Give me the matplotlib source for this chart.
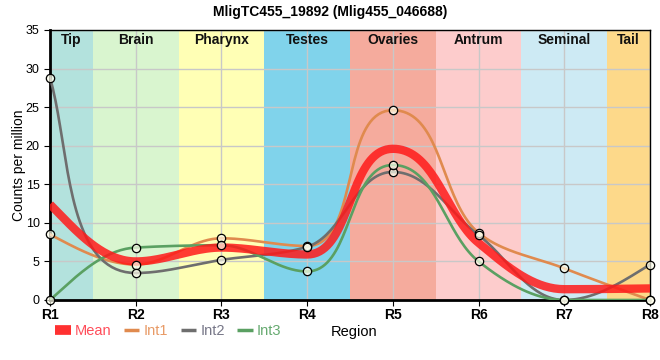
import numpy as np
import matplotlib.pyplot as plt
from matplotlib.lines import Line2D

plt.rcParams['font.family'] = ['Liberation Sans', 'DejaVu Sans']

regions = ["R1", "R2", "R3", "R4", "R5", "R6", "R7", "R8"]
mean = [12.4, 5.0, 6.8, 5.9, 19.6, 7.4, 1.4, 1.5]
int1 = [8.5, 4.6, 8.0, 7.0, 24.6, 8.7, 4.1, 0.0]
int2 = [28.8, 3.5, 5.2, 6.9, 16.6, 8.4, 0.0, 4.6]
int3 = [0.0, 6.8, 7.1, 3.7, 17.5, 5.0, 0.0, 0.0]

band_names = ["Tip", "Brain", "Pharynx", "Testes", "Ovaries", "Antrum", "Seminal", "Tail"]
band_colors = ["#b3e2dd", "#d9f5cf", "#ffffb5", "#80d3eb", "#f5ab9d", "#fdcccc", "#cdeaf4", "#fdd98a"]


def smooth(ax, xv, yv, k=1 / 3, n=40):
    # monotone tangents, bezier handles sized by the chord length in pixels
    y = np.asarray(yv, float)
    s = np.diff(y)
    m = np.zeros_like(y)
    for i in range(1, len(y) - 1):
        s0, s1 = s[i - 1], s[i]
        m[i] = (np.sign(s0) + np.sign(s1)) * min(abs(s0), abs(s1), 0.25 * abs(s0 + s1))
    m[0] = (3 * s[0] - m[1]) / 2
    m[-1] = (3 * s[-1] - m[-2]) / 2
    P = ax.transData.transform(np.column_stack([xv, y]))
    sx = P[1, 0] - P[0, 0]
    sy = ax.transData.transform((0, 1))[1] - ax.transData.transform((0, 0))[1]
    d = np.column_stack([np.full_like(m, sx), m * sy])
    d /= np.hypot(d[:, 0], d[:, 1])[:, None]
    t = np.linspace(0, 1, n)[1:, None]
    out = [P[:1]]
    for i in range(len(P) - 1):
        L = np.hypot(*(P[i + 1] - P[i])) * k
        c1 = P[i] + L * d[i]
        c2 = P[i + 1] - L * d[i + 1]
        out.append((1 - t) ** 3 * P[i] + 3 * (1 - t) ** 2 * t * c1
                   + 3 * (1 - t) * t ** 2 * c2 + t ** 3 * P[i + 1])
    pts = ax.transData.inverted().transform(np.vstack(out))
    return pts[:, 0], pts[:, 1]


fig = plt.figure(figsize=(6.6, 3.6), dpi=100)
ax = fig.add_axes([50 / 660, 60 / 360, 600 / 660, 270 / 360])

x = np.arange(len(regions))
ax.set_xlim(0, 7)
ax.set_ylim(0, 35)

edges = [0, 0.5, 1.5, 2.5, 3.5, 4.5, 5.5, 6.5, 7]
for i, (name, c) in enumerate(zip(band_names, band_colors)):
    ax.axvspan(edges[i], edges[i + 1], color=c, zorder=0, lw=0)
    ax.text((edges[i] + edges[i + 1]) / 2, 33.7, name, ha="center", va="center",
            fontsize=10, fontweight="bold", color="#111111")

series = [("Int1", int1, "#e08a4e"), ("Int2", int2, "#6e6e6e"), ("Int3", int3, "#5aa062")]
for name, vals, c in series:
    xs, ys = smooth(ax, x, vals)
    ax.plot(xs, ys, color=c, lw=1.9, zorder=3)
xs, ys = smooth(ax, x, mean)
ax.plot(xs, ys, color="#ff1a1a", lw=6, alpha=0.85, zorder=4, solid_capstyle="butt")
for name, vals, c in series:
    ax.plot(x, vals, "o", ms=6, mfc=(1, 1, 0.93, 0.7), mec="black", mew=0.9, zorder=5, clip_on=False)

ax.set_xticks(x)
ax.set_xticklabels(regions, fontweight="bold", fontsize=10)
ax.set_yticks(range(0, 36, 5))
ax.tick_params(axis="y", labelsize=9, length=4)
ax.tick_params(axis="x", length=4, pad=2)
ax.grid(True, color="#c8c8c8", lw=1)
for g in ax.get_xgridlines() + ax.get_ygridlines():
    g.set_zorder(1)
ax.spines["left"].set_linewidth(2)
ax.spines["bottom"].set_linewidth(2)
ax.spines["top"].set_linewidth(1)
ax.spines["right"].set_linewidth(1)
ax.set_ylabel("Counts per million", fontsize=10)
ax.yaxis.set_label_coords(-0.04, 0.5)
fig.suptitle("MligTC455_19892 (Mlig455_046688)", x=0.5, y=0.985, fontsize=10, fontweight="bold")

handles = [Line2D([], [], color="#ff1a1a", lw=7, alpha=0.9, solid_capstyle="butt")]
handles += [Line2D([], [], color=c, lw=2.5, solid_capstyle="butt") for _, _, c in series]
leg = fig.legend(handles, ["Mean", "Int1", "Int2", "Int3"], loc="center left",
                 bbox_to_anchor=(51 / 660, 1 - 331 / 360), ncol=4, frameon=False,
                 fontsize=10.5, handlelength=1.05, handletextpad=0.3, columnspacing=0.85,
                 borderaxespad=0, borderpad=0.3)
for txt, c in zip(leg.get_texts(), ["#ff4d5a", "#e89a66", "#777788", "#66aa70"]):
    txt.set_color(c)
fig.text(331 / 660, 1 - 332 / 360, "Region", ha="left", va="center", fontsize=10.5)

fig.savefig("out.png", dpi=100)
